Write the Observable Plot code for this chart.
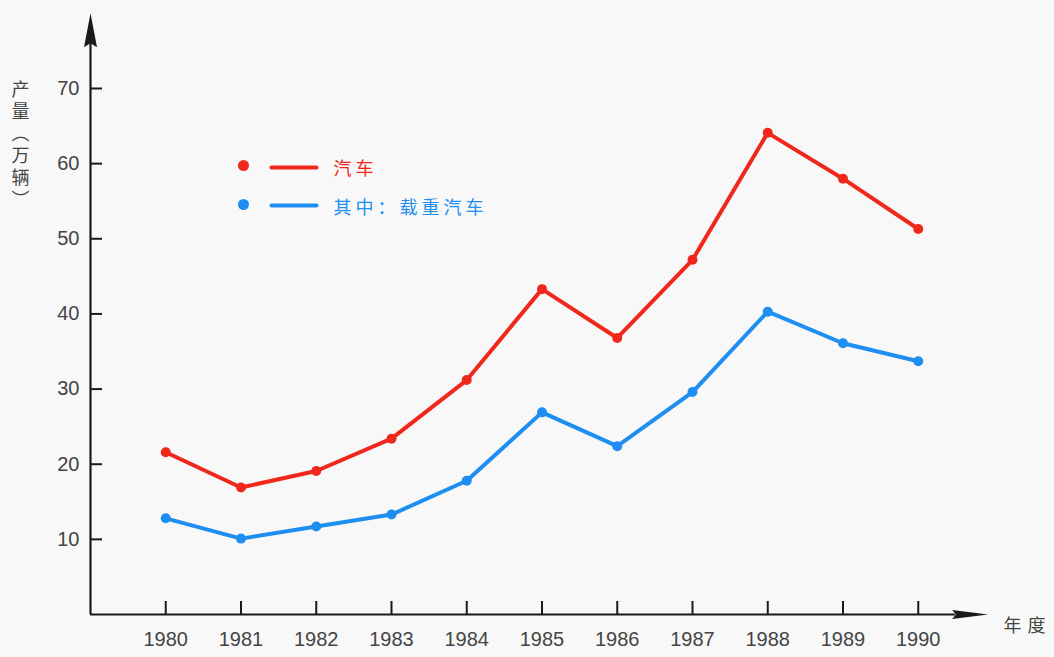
<!DOCTYPE html>
<html>
<head>
<meta charset="utf-8">
<script src="https://cdn.jsdelivr.net/npm/d3@7"></script>
<script src="https://cdn.jsdelivr.net/npm/@observablehq/plot@0.6"></script>
<style>
  html, body { margin: 0; padding: 0; background: #f8f8f8; }
  #chart svg { display: block; }
</style>
</head>
<body>
<div id="chart"></div>
<script>
// ---- data ----
const years = [1980, 1981, 1982, 1983, 1984, 1985, 1986, 1987, 1988, 1989, 1990];
const autoTotal = [21.6, 16.9, 19.1, 23.4, 31.2, 43.3, 36.8, 47.2, 64.1, 58.0, 51.3];
const autoTruck = [12.8, 10.1, 11.7, 13.3, 17.8, 26.9, 22.4, 29.6, 40.3, 36.1, 33.7];
const yTicks = [10, 20, 30, 40, 50, 60, 70];
const seriesNames = ["汽车", "其中：载重汽车"];
const seriesColors = ["#f0281c", "#1e8ef0"];
const yTitle = "产量（万辆）";
const xTitle = "年度";

const data = years.flatMap((yr, i) => [
  {year: yr, value: autoTotal[i], series: seriesNames[0]},
  {year: yr, value: autoTruck[i], series: seriesNames[1]}
]);

// ---- layout ----
const W = 1054, H = 657;
const mL = 90, mR = 61, mT = 88, mB = 43;
const xDom = [1979, 1991], yDom = [0, 70];
const pxX = (W - mL - mR) / (xDom[1] - xDom[0]);
const pxY = (H - mT - mB) / (yDom[1] - yDom[0]);
const ink = "#1a1a1a";
const labelColor = "#444";
const latin = "'Liberation Sans', Arial, sans-serif";
const cjk = "'Noto Sans CJK SC', sans-serif";

const notchedSpike = {
  draw(ctx, l, r) {
    ctx.moveTo(-r, 0);
    ctx.lineTo(0, -l);
    ctx.lineTo(r, 0);
    ctx.lineTo(0, -4);
    ctx.closePath();
  }
};
const plainLine = {
  draw(ctx, l) { ctx.moveTo(0, 0); ctx.lineTo(0, -l); }
};

const legendMarks = seriesNames.flatMap((name, i) => [
  Plot.dot([name], {frameAnchor: "top-left", dx: 153, dy: 77 + i * 39, r: 5.5, fill: seriesColors[i]}),
  Plot.vector([name], {frameAnchor: "top-left", dx: 181, dy: 79 + i * 38, length: 45, rotate: 90, anchor: "start",
    shape: plainLine, stroke: seriesColors[i], strokeWidth: 4, strokeLinecap: "round"}),
  Plot.text([name], {frameAnchor: "top-left", dx: 243, dy: 74 + i * 39, text: d => d, textAnchor: "start",
    fill: seriesColors[i], fontSize: 18, fontFamily: cjk})
]);

const chart = Plot.plot({
  width: W, height: H,
  marginLeft: mL, marginRight: mR, marginTop: mT, marginBottom: mB,
  x: {domain: xDom, axis: null},
  y: {domain: yDom, axis: null},
  color: {domain: seriesNames, range: seriesColors},
  style: {background: "#f8f8f8", fontFamily: latin, overflow: "visible"},
  marks: [
    // axes
    Plot.ruleX([xDom[0]], {y1: 0, y2: 76, stroke: ink, strokeWidth: 2.2}),
    Plot.ruleY([0], {x1: xDom[0], x2: 1990.5, stroke: ink, strokeWidth: 2.2}),
    Plot.vector([xDom[0]], {x: d => d, y: 75.5, length: 34, rotate: 0, anchor: "start", shape: notchedSpike, r: 6.5, fill: ink, stroke: "none"}),
    Plot.vector([0], {x: 1990.45, y: d => d, length: 36, rotate: 90, anchor: "start", shape: notchedSpike, r: 4.5, fill: ink, stroke: "none"}),
    // ticks (inward)
    Plot.ruleY(yTicks, {y: d => d, x1: xDom[0], x2: xDom[0] + 12 / pxX, stroke: ink, strokeWidth: 2}),
    Plot.ruleX(years, {x: d => d, y1: 0, y2: 13 / pxY, stroke: ink, strokeWidth: 2}),
    // tick labels
    Plot.text(yTicks, {x: xDom[0], y: d => d, text: d => String(d), textAnchor: "end", dx: -11, fontSize: 20, fill: labelColor}),
    Plot.text(years, {x: d => d, y: 0, text: d => String(d), dy: 25, fontSize: 20, fill: labelColor}),
    // axis titles
    Plot.text([yTitle], {frameAnchor: "top-left", dx: -70, dy: -21, text: d => d, textAnchor: "start",
      fontSize: 18, fontFamily: cjk, fill: labelColor}),
    Plot.text([xTitle], {frameAnchor: "bottom-right", dx: 10, dy: 17, text: d => d, textAnchor: "start",
      fontSize: 18, fontFamily: cjk, fill: labelColor}),
    // data
    Plot.line(data, {x: "year", y: "value", stroke: "series", strokeWidth: 4, strokeLinejoin: "round"}),
    Plot.dot(data, {x: "year", y: "value", fill: "series", r: 5}),
    ...legendMarks
  ]
});

// letter spacing for CJK labels; vertical writing for the y title
d3.select(chart).selectAll("text").each(function() {
  const t = this.textContent;
  if (seriesNames.includes(t)) this.style.letterSpacing = "4px";
  if (t === xTitle) this.style.letterSpacing = "6px";
  if (t === yTitle) {
    this.setAttribute("writing-mode", "vertical-rl");
    this.style.writingMode = "vertical-rl";
    this.style.letterSpacing = "4px";
    this.removeAttribute("dy");
  }
});

document.getElementById("chart").appendChild(chart);
</script>
</body>
</html>
